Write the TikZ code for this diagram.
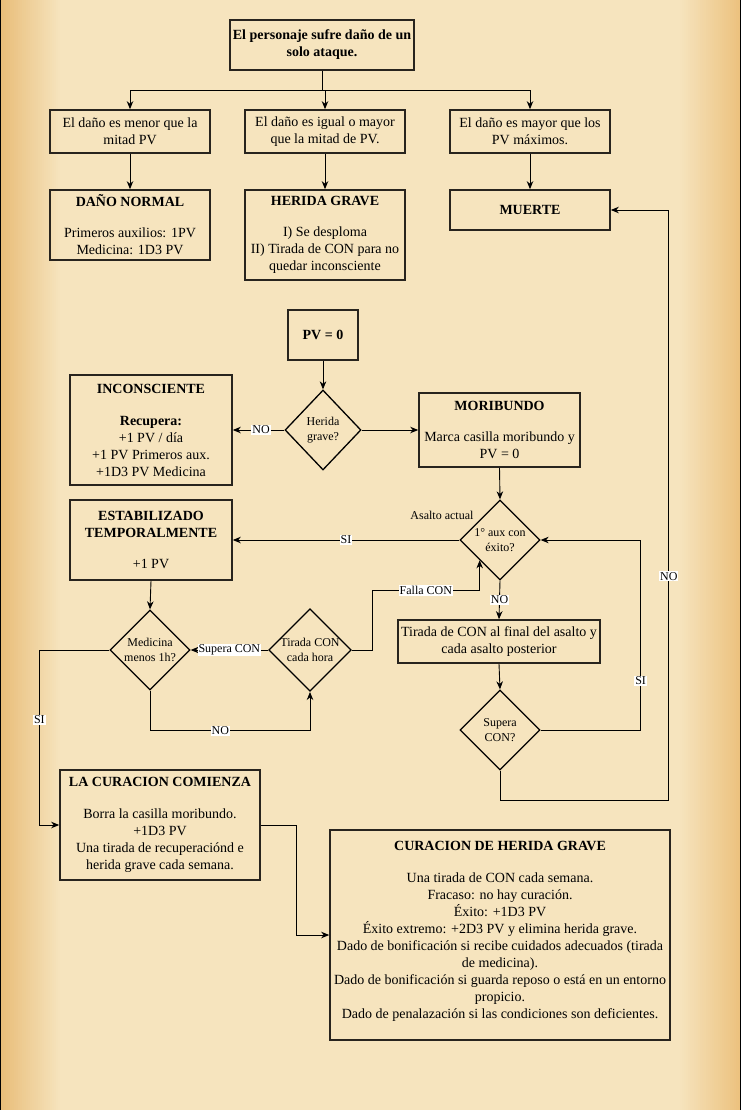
\documentclass[tikz,border=0pt]{standalone}
\usepackage{fontspec}
\setmainfont{Liberation Serif}
\usetikzlibrary{arrows.meta,shapes.geometric,calc}
\definecolor{parchL}{RGB}{230,182,108}
\definecolor{parchM}{RGB}{246,228,190}
\definecolor{parchR}{RGB}{234,188,116}
\definecolor{boxline}{RGB}{40,36,30}
\begin{document}
\begin{tikzpicture}[x=1pt,y=-1pt,
  box/.style={draw=boxline,line width=1.6pt,rectangle,inner sep=0pt,align=center,font=\fontsize{14}{17}\selectfont},
  dia/.style={draw=black,line width=1.3pt,diamond,shape aspect=1,inner sep=0pt,minimum width=80pt,minimum height=80pt,align=center,font=\fontsize{12}{15}\selectfont},
  arr/.style={draw=black,line width=0.9pt,-{Stealth[length=8pt,width=6.5pt,inset=2.5pt]}},
  conn/.style={draw=black,line width=0.9pt},
  lbl/.style={fill=white,inner sep=1pt,font=\fontsize{12}{13}\selectfont}]
\useasboundingbox (0,0) rectangle (740,1110);
% parchment background built from strips
\fill[parchM] (0,0) rectangle (740,1110);
\foreach \i in {0,...,29}{
  \pgfmathtruncatemacro{\p}{85-85*\i/30}
  \fill[parchL!\p!parchM] (2*\i,0) rectangle (2*\i+2.3,1110);
  \fill[parchR!\p!parchM] (740-2*\i-2.3,0) rectangle (740-2*\i,1110);
}
\draw[black,line width=1pt] (0,0) rectangle (740,1110);

% top row
\node[box,minimum width=184pt,minimum height=50pt] (top) at (322,45) {\textbf{El personaje sufre daño de un}\\\textbf{solo ataque.}};
\node[box,minimum width=160pt,minimum height=43pt] (a1) at (130,131.5) {El daño es menor que la\\mitad PV};
\node[box,minimum width=160pt,minimum height=43pt] (a2) at (325,131.5) {El daño es igual o mayor\\que la mitad de PV.};
\node[box,minimum width=160pt,minimum height=43pt] (a3) at (530,131.5) {El daño es mayor que los\\PV máximos.};
\node[box,minimum width=160pt,minimum height=70pt] (b1) at (130,225) {\textbf{DAÑO NORMAL}\\[14pt]Primeros auxilios: 1PV\\Medicina: 1D3 PV};
\node[box,minimum width=160pt,minimum height=90pt] (b2) at (325,235) {\textbf{HERIDA GRAVE}\\[14pt]I) Se desploma\\II) Tirada de CON para no\\quedar inconsciente};
\node[box,minimum width=160pt,minimum height=40pt] (b3) at (530,210) {\textbf{MUERTE}};

\coordinate (split) at (322,90);
\draw[conn] (top.south) -- (split);
\draw[arr] (split) -| (a1.north);
\draw[arr] (split) -| (a2.north);
\draw[arr] (split) -| (a3.north);
\draw[arr] (a1.south) -- (b1.north);
\draw[arr] (a2.south) -- (b2.north);
\draw[arr] (a3.south) -- (b3.north);

% middle
\node[box,minimum width=70pt,minimum height=50pt] (pv) at (323,335) {\textbf{PV = 0}};
\node[dia,minimum width=76pt] (d1) at (323,430) {Herida\\grave?};
\node[box,minimum width=162pt,minimum height=110pt] (inc) at (151,430) {\textbf{INCONSCIENTE}\\[15pt]\textbf{Recupera:}\\+1 PV / día\\+1 PV Primeros aux.\\+1D3 PV Medicina};
\node[box,minimum width=161pt,minimum height=74pt] (mor) at (499.5,430) {\textbf{MORIBUNDO}\\[14pt]Marca casilla moribundo y\\PV = 0};
\node[dia] (d2) at (500,540) {1° aux con\\éxito?};
\node[font=\fontsize{12}{13}\selectfont,anchor=east] (asalto) at (477,515) {Asalto actual};
\node[box,minimum width=162pt,minimum height=80pt] (est) at (151,540) {\textbf{ESTABILIZADO}\\\textbf{TEMPORALMENTE}\\[14pt]+1 PV};
\node[dia] (d3) at (150,650) {Medicina\\menos 1h?};
\node[dia] (d4) at (310,650) {Tirada CON\\cada hora};
\node[box,minimum width=202pt,minimum height=43pt] (tf) at (499,641.5) {Tirada de CON al final del asalto y\\cada asalto posterior};
\node[dia] (d5) at (500,730) {Supera\\CON?};
\node[box,minimum width=200pt,minimum height=110pt] (cur) at (160,825) {\textbf{LA CURACION COMIENZA}\\[15pt]Borra la casilla moribundo.\\+1D3 PV\\Una tirada de recuperaciónd e\\herida grave cada semana.};
\node[box,minimum width=340pt,minimum height=210pt] (chg) at (500,935) {\textbf{CURACION DE HERIDA GRAVE}\\[15pt]Una tirada de CON cada semana.\\Fracaso: no hay curación.\\Éxito: +1D3 PV\\Éxito extremo: +2D3 PV y elimina herida grave.\\Dado de bonificación si recibe cuidados adecuados (tirada\\de medicina).\\Dado de bonificación si guarda reposo o está en un entorno\\propicio.\\Dado de penalazación si las condiciones son deficientes.\\[-6pt]};

% connectors
\draw[arr] (pv.south) -- (d1.north);
\draw[arr] (d1.west) -- node[lbl,pos=0.45] {NO} (inc.east);
\draw[arr] (d1.east) -- (mor.west);
\draw[arr] (mor.south) -- (d2.north);
\draw[arr] (d2.west) -- node[lbl] {SI} (est.east);
\draw[arr] (est.south) -- (d3.north);
\draw[arr] (d4.west) -- node[lbl] {Supera CON} (d3.east);
\draw[arr] (d4.east) -- ++(20,0) |- node[lbl,pos=0.75] {Falla CON} ([yshift=-30pt]d2.south west) -- (d2.south west);
\draw[arr] (d3.south) -- ++(0,40) -| node[lbl,pos=0.22] {NO} (d4.south);
\draw[arr] (d3.west) -- ++(-70,0) |- node[lbl,pos=0.2] {SI} (cur.west);
\draw[arr] (d2.south) -- node[lbl] {NO} (tf.north);
\draw[arr] (tf.south) -- (d5.north);
\draw[arr] (d5.east) -- ++(100,0) |- node[lbl,pos=0.13] {SI} (d2.east);
\draw[arr] (d5.south) -- ++(0,30) -| node[lbl,pos=0.69] {NO} ([xshift=58pt]b3.east) -- (b3.east);
\draw[arr] (cur.east) -- ++(36,0) |- (chg.west);
\end{tikzpicture}
\end{document}
